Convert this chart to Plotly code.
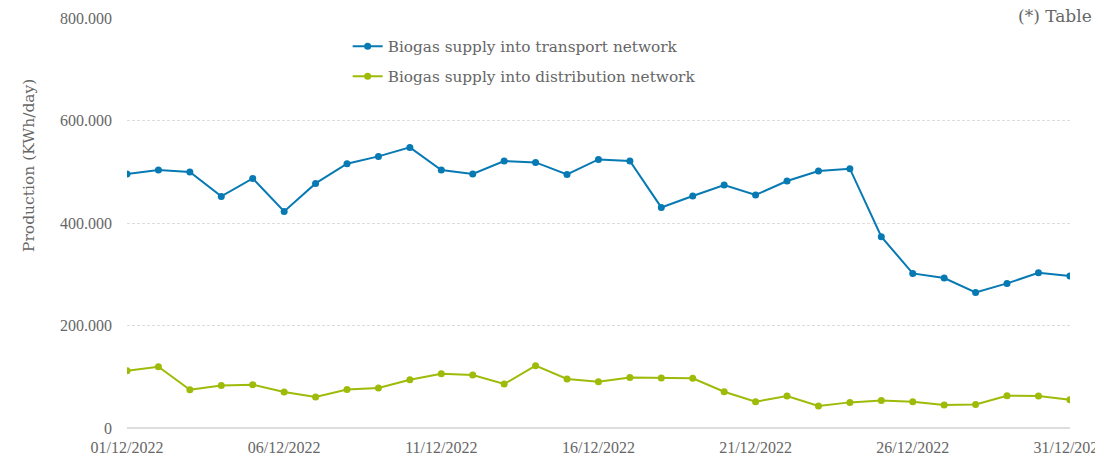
import plotly.graph_objects as go
import pandas as pd

dates = pd.date_range("2022-12-01", "2022-12-31", freq="D")
transport = [495600, 503400, 499500, 451900, 487000, 422600, 477300, 515700, 530000, 547500,
             503400, 495600, 521000, 518200, 494800, 524100, 521000, 430400, 452700, 474100,
             454600, 481900, 501500, 506000, 373300, 301700, 292700, 264600, 282100, 303000,
             296600]
distribution = [111800, 119600, 74700, 83100, 84500, 70200, 60500, 75300, 78000, 94200,
                105900, 103400, 85800, 121600, 95600, 90300, 98700, 97600, 97000, 70800,
                51300, 62400, 42900, 50000, 53900, 51300, 44900, 46000, 63000, 62400,
                55200]
tick_dates = ["2022-12-01", "2022-12-06", "2022-12-11", "2022-12-16", "2022-12-21",
              "2022-12-26", "2022-12-31"]
tick_text = ["01/12/2022", "06/12/2022", "11/12/2022", "16/12/2022", "21/12/2022",
             "26/12/2022", "31/12/2022"]
y_ticks = [0, 200000, 400000, 600000, 800000]

FONT = "DejaVu Serif"
TICKFONT = "Liberation Serif"
GREY = "#666666"
BLUE = "#0779b3"
GREEN = "#9dbb08"

fig = go.Figure()
fig.add_trace(go.Scatter(x=dates, y=transport, mode="lines+markers",
                         name="Biogas supply into transport network",
                         line=dict(color=BLUE, width=2), marker=dict(size=7, color=BLUE),
                         legendgroup="a"))
fig.add_trace(go.Scatter(x=dates, y=distribution, mode="lines+markers",
                         name="Biogas supply into distribution network",
                         line=dict(color=GREEN, width=2), marker=dict(size=7, color=GREEN),
                         legendgroup="b"))

x_end = pd.Timestamp("2022-12-31") + pd.Timedelta(minutes=5)

# the page adds an 8px body margin, so margins are reduced to compensate
L, T = 119, 10
fig.update_layout(
    width=1103, height=459,
    margin=dict(l=L, r=41, t=T, b=39, autoexpand=False),
    plot_bgcolor="white", paper_bgcolor="white",
    font=dict(family=FONT, color=GREY, size=13),
    separators=",.",
    showlegend=True,
    legend=dict(x=0.234, y=0.971, xanchor="left", yanchor="top",
                font=dict(family=FONT, size=15.3, color=GREY),
                bgcolor="rgba(0,0,0,0)", tracegroupgap=7),
    xaxis=dict(range=[dates[0], x_end], tickvals=pd.to_datetime(tick_dates),
               ticktext=tick_text, showgrid=False, zeroline=False, automargin=False,
               showline=False, ticks="", ticklabelstandoff=8,
               tickfont=dict(family=TICKFONT, size=16, color=GREY)),
    yaxis=dict(range=[0, 800000], tickvals=y_ticks, tickformat=",d", automargin=False,
               showgrid=True, gridcolor="#dddddd", griddash="3px,2px", gridwidth=1,
               zeroline=True, zerolinecolor="#dddddd", zerolinewidth=1.5,
               showline=False, ticks="", ticklabelstandoff=14,
               tickfont=dict(family=TICKFONT, size=16, color=GREY)),
    annotations=[
        dict(text="Production (KWh/day)", textangle=-90, x=(10 - L) / 943, y=0.639,
             xref="paper", yref="paper", showarrow=False,
             font=dict(family=FONT, size=15.5, color=GREY)),
        dict(text="(*) Table", x=(1008 - L) / 943, y=1.005, xref="paper", yref="paper",
             xanchor="left", yanchor="middle", showarrow=False,
             font=dict(family=FONT, size=17, color=GREY)),
    ],
)

fig.write_html("out.html")
